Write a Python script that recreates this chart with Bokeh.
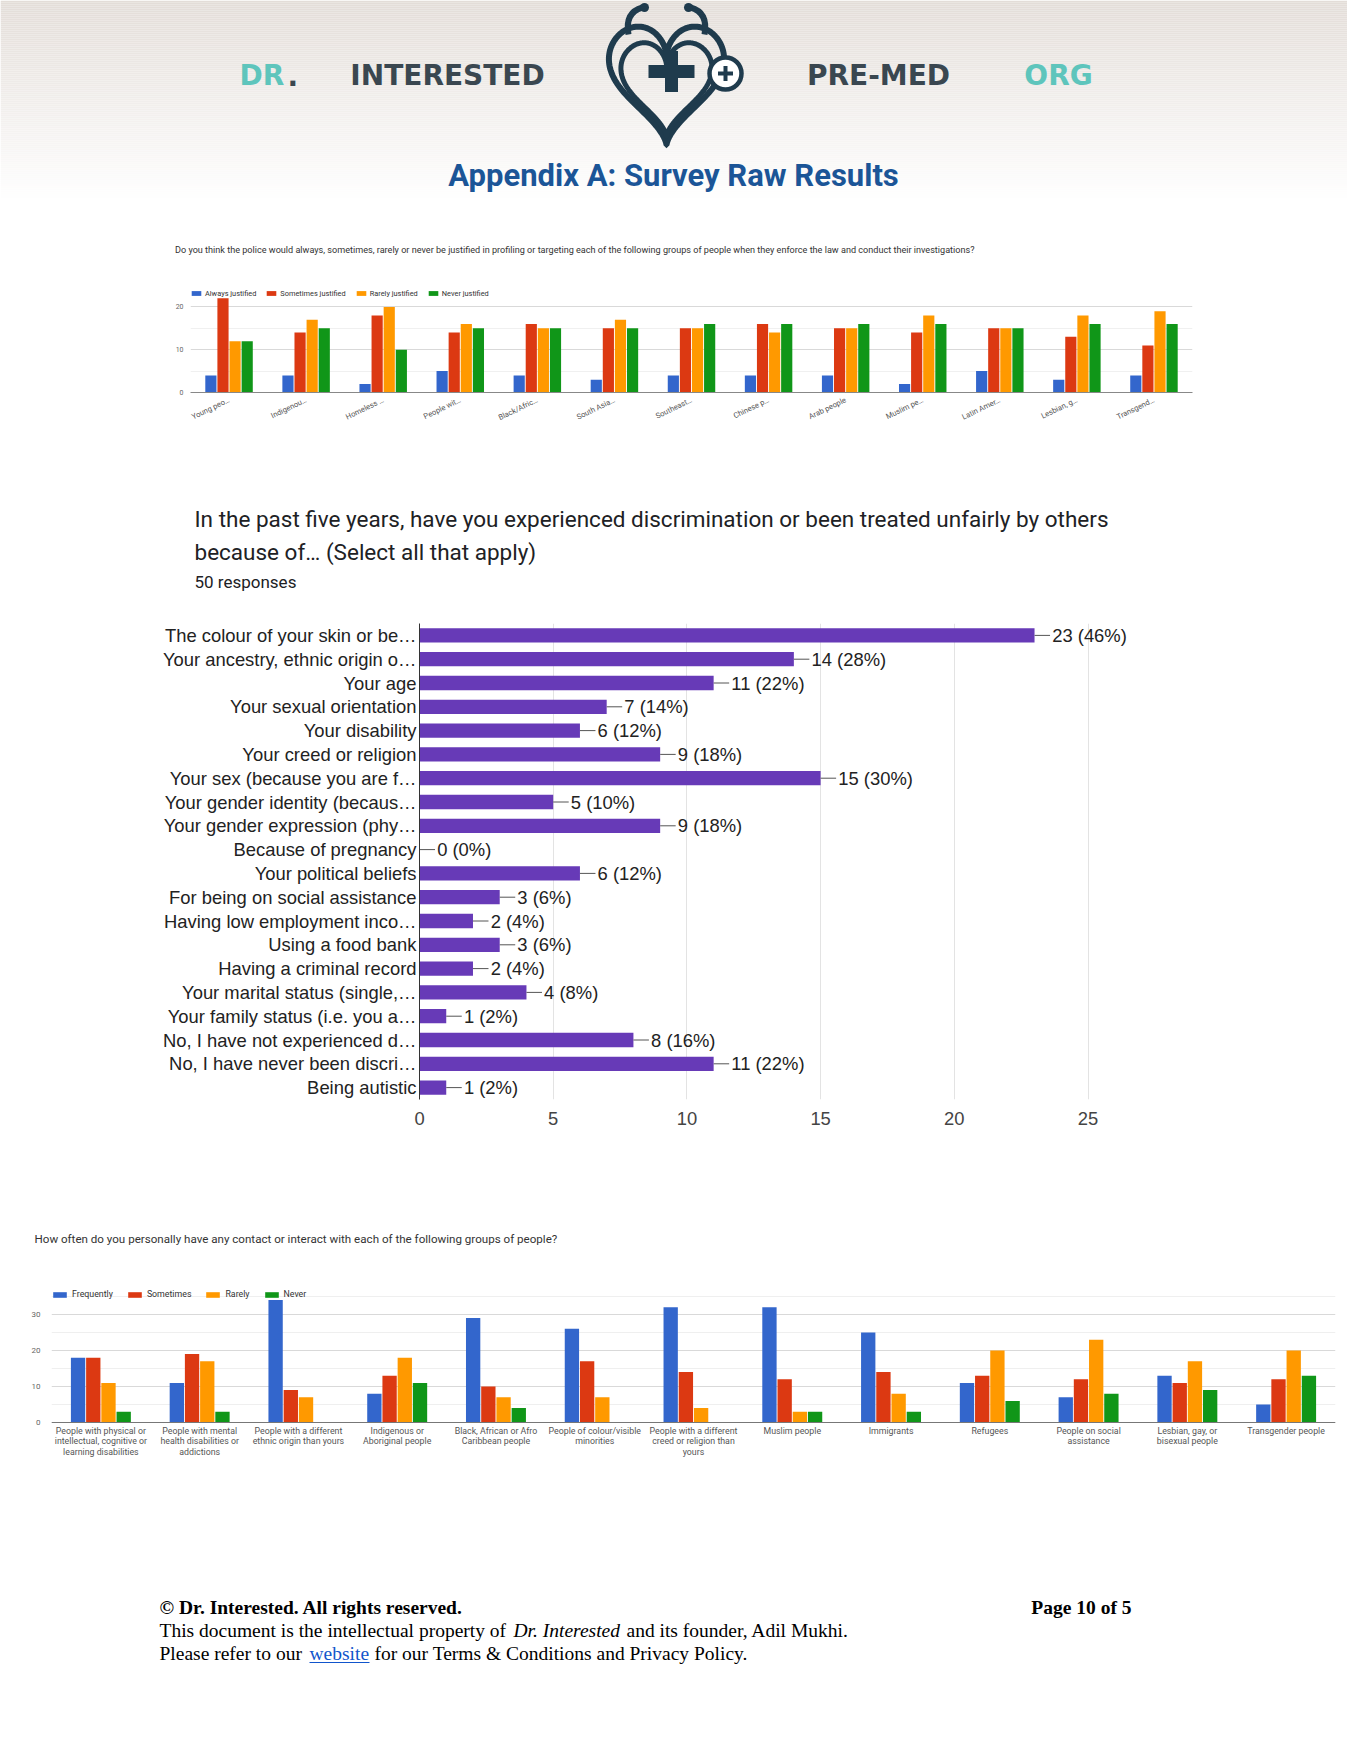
import math
import numpy as np
from bokeh.plotting import figure
from bokeh.models import Range1d, FactorRange, Legend, LegendItem, FixedTicker, ColumnDataSource, Span
from bokeh.transform import dodge
from bokeh.layouts import column
from bokeh.embed import file_html
from bokeh.resources import INLINE
from bokeh.core.properties import value

# ---------------- data ----------------
police_groups = ["Young peo…", "Indigenou…", "Homeless …", "People wit…", "Black/Afric…",
                 "South Asia…", "Southeast…", "Chinese p…", "Arab people", "Muslim pe…",
                 "Latin Amer…", "Lesbian, g…", "Transgend…"]
police_series = ["Always justified", "Sometimes justified", "Rarely justified", "Never justified"]
police_always = [4, 4, 2, 5, 4, 3, 4, 4, 4, 2, 5, 3, 4]
police_sometimes = [22, 14, 18, 14, 16, 15, 15, 16, 15, 14, 15, 13, 11]
police_rarely = [12, 17, 20, 16, 15, 17, 15, 14, 15, 18, 15, 18, 19]
police_never = [12, 15, 10, 15, 15, 15, 16, 16, 16, 16, 15, 16, 16]
police_ticks = [0, 10, 20]
police_minor_ticks = [5, 15, 25]

disc_reasons = ["The colour of your skin or be…", "Your ancestry, ethnic origin o…", "Your age",
                "Your sexual orientation", "Your disability", "Your creed or religion",
                "Your sex (because you are f…", "Your gender identity (becaus…",
                "Your gender expression (phy…", "Because of pregnancy", "Your political beliefs",
                "For being on social assistance", "Having low employment inco…", "Using a food bank",
                "Having a criminal record", "Your marital status (single,…",
                "Your family status (i.e. you a…", "No, I have not experienced d…",
                "No, I have never been discri…", "Being autistic"]
disc_counts = [23, 14, 11, 7, 6, 9, 15, 5, 9, 0, 6, 3, 2, 3, 2, 4, 1, 8, 11, 1]
disc_responses = 50
disc_ticks = [0, 5, 10, 15, 20, 25]

contact_groups = ["People with physical or intellectual, cognitive or learning disabilities",
                  "People with mental health disabilities or addictions",
                  "People with a different ethnic origin than yours",
                  "Indigenous or Aboriginal people",
                  "Black, African or Afro Caribbean people",
                  "People of colour/visible minorities",
                  "People with a different creed or religion than yours",
                  "Muslim people", "Immigrants", "Refugees",
                  "People on social assistance",
                  "Lesbian, gay, or bisexual people",
                  "Transgender people"]
contact_labels = ["People with physical or\nintellectual, cognitive or\nlearning disabilities",
                  "People with mental\nhealth disabilities or\naddictions",
                  "People with a different\nethnic origin than yours",
                  "Indigenous or\nAboriginal people",
                  "Black, African or Afro\nCaribbean people",
                  "People of colour/visible\nminorities",
                  "People with a different\ncreed or religion than\nyours",
                  "Muslim people", "Immigrants", "Refugees",
                  "People on social\nassistance",
                  "Lesbian, gay, or\nbisexual people",
                  "Transgender people"]
contact_series = ["Frequently", "Sometimes", "Rarely", "Never"]
contact_frequently = [18, 11, 34, 8, 29, 26, 32, 32, 25, 11, 7, 13, 5]
contact_sometimes = [18, 19, 9, 13, 10, 17, 14, 12, 14, 13, 12, 11, 12]
contact_rarely = [11, 17, 7, 18, 7, 7, 4, 3, 8, 20, 23, 17, 20]
contact_never = [3, 3, 0, 11, 4, 0, 0, 3, 3, 6, 8, 9, 13]
contact_ticks = [0, 10, 20, 30]
contact_minor_ticks = [5, 15, 25, 35]

# ---------------- styling ----------------
W = 1347
SERIES_COLORS = ["#3366cc", "#dc3912", "#ff9900", "#109618"]
DARK = "#1f3b4d"
TEAL = "#5ec5bc"


def canvas(h):
    p = figure(width=W, height=h, x_range=Range1d(0, W), y_range=Range1d(h, 0),
               toolbar_location=None, output_backend="svg", frame_align=False,
               x_axis_location=None, y_axis_location=None, min_border=0)
    p.grid.visible = False
    p.outline_line_color = None
    p.background_fill_color = "white"
    p.border_fill_color = "white"
    return p


def txt(p, x, y, s, size, color="#222222", font="Roboto", style="normal",
        align="left", baseline="middle"):
    p.text(x=[x], y=[y], text=[s], text_font=value(font), text_font_size=value(size),
           text_color=value(color), text_font_style=value(style),
           text_align=value(align), text_baseline=value(baseline))


def no_ticks(ax):
    ax.major_tick_line_color = None
    ax.minor_tick_line_color = None
    ax.major_tick_out = 0
    ax.minor_tick_out = 0
    ax.major_tick_in = 0
    ax.minor_tick_in = 0


# ---------------- header (page y 0..268) ----------------
H1 = 268
hdr = canvas(H1)
tops, bots, cols = [], [], []
c0 = np.array([227, 221, 216])
for ly in range(0, 204, 2):
    frac = min(1.0, ly / 200.0)
    c = c0 + (np.array([255, 255, 255]) - c0) * frac
    tops.append(ly)
    bots.append(ly + 2)
    cols.append("#%02x%02x%02x" % tuple(int(round(v)) for v in c))
hdr.quad(left=0, right=W, top=tops, bottom=bots, fill_color=cols, line_color=None)

# logo: heart + stethoscope
t = np.linspace(0, 2 * np.pi, 240)
hx = 16 * np.sin(t) ** 3
hy = 13 * np.cos(t) - 5 * np.cos(2 * t) - 2 * np.cos(3 * t) - np.cos(4 * t)
for cx, cy, sx, sy, lw in [(666, 75, 3.6, 4.1, 6), (666, 81, 2.85, 3.25, 5)]:
    hdr.line(cx + sx * hx, cy - sy * hy, line_color=DARK, line_width=lw)
for (x0, y0, cx0, cy0, x1, y1) in [(628, 34, 624, 12, 642, 7), (704, 34, 708, 12, 690, 7)]:
    hdr.quadratic(x0=[x0], y0=[y0], cx=[cx0], cy=[cy0], x1=[x1], y1=[y1],
                  line_color=DARK, line_width=6)
for ex in (644, 688):
    hdr.circle(x=[ex], y=[7], radius=4.5, fill_color=DARK, line_color=None)
hdr.rect(x=[671], y=[71], width=46, height=13, fill_color=DARK, line_color=None)
hdr.rect(x=[671], y=[71], width=13, height=41, fill_color=DARK, line_color=None)
hdr.circle(x=[725], y=[73], radius=16, fill_color="white", line_color=DARK, line_width=4.5)
hdr.rect(x=[725], y=[73], width=15, height=4, fill_color=DARK, line_color=None)
hdr.rect(x=[725], y=[73], width=4, height=15, fill_color=DARK, line_color=None)

bx = "DejaVu Sans"
txt(hdr, 239, 75, "DR", "28px", TEAL, bx, "bold")
txt(hdr, 287, 75, ".", "28px", "#3a4750", bx, "bold")
txt(hdr, 447, 75, "INTERESTED", "28px", "#3a4750", bx, "bold", "center")
txt(hdr, 878, 75, "PRE-MED", "28px", "#3a4750", bx, "bold", "center")
txt(hdr, 1058, 75, "ORG", "28px", TEAL, bx, "bold", "center")

txt(hdr, 673, 175, "Appendix A: Survey Raw Results", "31px", "#1b5597", "Roboto", "bold", "center")

txt(hdr, 174.5, 249, "Do you think the police would always, sometimes, rarely or never be justified in "
                     "profiling or targeting each of the following groups of people when they enforce "
                     "the law and conduct their investigations?", "9.1px", "#333333")

# ---------------- top chart (police), page y 268..432 ----------------
src_p = ColumnDataSource(dict(group=police_groups, always=police_always,
                              sometimes=police_sometimes, rarely=police_rarely,
                              never=police_never))
p2 = figure(width=W, height=164, x_range=FactorRange(factors=police_groups),
            y_range=Range1d(0, 25), toolbar_location=None, output_backend="svg", frame_align=False,
            min_border_left=190, min_border_right=155, min_border_top=17, min_border_bottom=40)
pitch = 0.157
rends = []
for i, (cname, col) in enumerate(zip(["always", "sometimes", "rarely", "never"], SERIES_COLORS)):
    r = p2.vbar(x=dodge("group", (i - 1.5) * pitch, range=p2.x_range), top=cname,
                width=0.145, source=src_p, fill_color=col, line_color=None)
    rends.append(r)
leg = Legend(items=[LegendItem(label=s, renderers=[r]) for s, r in zip(police_series, rends)],
             orientation="horizontal", location="top_left", margin=0, padding=0, spacing=9,
             glyph_width=12, glyph_height=6, label_height=16, label_standoff=3,
             label_text_font="Roboto", label_text_font_size="7.4px",
             label_text_color="#333333", border_line_color=None, background_fill_alpha=0)
p2.add_layout(leg)
p2.outline_line_color = None
p2.xgrid.grid_line_color = None
tk = FixedTicker(ticks=police_ticks, minor_ticks=police_minor_ticks)
p2.yaxis.ticker = tk
p2.ygrid.ticker = tk
p2.ygrid.grid_line_color = "#d9d9d9"
p2.ygrid.minor_grid_line_color = "#f0f0f0"
p2.yaxis.axis_line_color = None
no_ticks(p2.yaxis)
p2.yaxis.major_label_text_font = "Roboto"
p2.yaxis.major_label_text_font_size = "7px"
p2.yaxis.major_label_text_color = "#666666"
p2.yaxis.major_label_standoff = 7
p2.xaxis.axis_line_color = "#888888"
no_ticks(p2.xaxis)
p2.xaxis.major_label_orientation = 0.45
p2.xaxis.major_label_text_font = "Roboto"
p2.xaxis.major_label_text_font_size = "7.6px"
p2.xaxis.major_label_text_color = "#555555"
p2.xaxis.major_label_standoff = 7

# ---------------- middle text, page y 432..600 ----------------
T3, H3 = 432, 168
mt = canvas(H3)
txt(mt, 194, 518 - T3, "In the past five years, have you experienced discrimination or been treated unfairly by others",
    "22.5px", "#202124")
txt(mt, 194, 551 - T3, "because of… (Select all that apply)", "22.5px", "#202124")
txt(mt, 194, 581 - T3, f"{disc_responses} responses", "17px", "#202124")

# ---------------- middle chart (discrimination), page y 600..1140 ----------------
src_d = ColumnDataSource(dict(
    reason=disc_reasons, count=disc_counts,
    lead_end=[c + 0.58 for c in disc_counts],
    label_x=[c + 0.66 for c in disc_counts],
    label=[f"{c} ({round(100 * c / disc_responses)}%)" for c in disc_counts]))
p4 = figure(width=W, height=540, y_range=FactorRange(factors=list(reversed(disc_reasons))),
            x_range=Range1d(0, 27), toolbar_location=None, output_backend="svg", frame_align=False,
            min_border_left=419, min_border_right=206, min_border_top=23, min_border_bottom=41)
p4.hbar(y="reason", left=0, right="count", height=0.6, source=src_d,
        fill_color="#673ab7", line_color=None)
p4.segment(x0="count", y0="reason", x1="lead_end", y1="reason", source=src_d,
           line_color="#555555", line_width=1)
p4.text(x="label_x", y="reason", text="label", source=src_d,
        text_font=value("Liberation Sans"), text_font_size=value("18.4px"),
        text_color=value("#222222"), text_baseline=value("middle"), text_align=value("left"))
p4.outline_line_color = None
p4.ygrid.grid_line_color = None
tk4 = FixedTicker(ticks=disc_ticks)
p4.xaxis.ticker = tk4
p4.xgrid.ticker = tk4
p4.xgrid.grid_line_color = "#e3e3e3"
p4.xaxis.axis_line_color = None
no_ticks(p4.xaxis)
p4.xaxis.major_label_text_font = "Liberation Sans"
p4.xaxis.major_label_text_font_size = "18.4px"
p4.xaxis.major_label_text_color = "#444444"
p4.xaxis.major_label_standoff = 12
p4.yaxis.axis_line_color = "#333333"
no_ticks(p4.yaxis)
p4.yaxis.major_label_text_font = "Liberation Sans"
p4.yaxis.major_label_text_font_size = "18.4px"
p4.yaxis.major_label_text_color = "#222222"
p4.yaxis.major_label_standoff = 3

# ---------------- bottom text, page y 1140..1270 ----------------
T5, H5 = 1140, 130
bt = canvas(H5)
txt(bt, 34, 1238 - T5, "How often do you personally have any contact or interact with each of the following groups of people?",
    "11.6px", "#333333")

# ---------------- bottom chart (contact), page y 1270..1470 ----------------
label_lines = [lab.split("\n") + [""] * (3 - len(lab.split("\n"))) for lab in contact_labels]
src_c = ColumnDataSource(dict(group=contact_groups, frequently=contact_frequently,
                              sometimes=contact_sometimes, rarely=contact_rarely,
                              never=contact_never,
                              line1=[l[0] for l in label_lines],
                              line2=[l[1] for l in label_lines],
                              line3=[l[2] for l in label_lines]))
p6 = figure(width=W, height=200, x_range=FactorRange(factors=contact_groups),
            y_range=Range1d(-11.1, 37.2), toolbar_location=None, output_backend="svg",
            frame_align=False, x_axis_location=None,
            min_border_left=51, min_border_right=12, min_border_top=18, min_border_bottom=8)
pitch6 = 0.154
rends6 = []
for i, (cname, col) in enumerate(zip(["frequently", "sometimes", "rarely", "never"], SERIES_COLORS)):
    r = p6.vbar(x=dodge("group", (i - 1.5) * pitch6, range=p6.x_range), top=cname, bottom=0,
                width=0.145, source=src_c, fill_color=col, line_color=None)
    rends6.append(r)
p6.add_layout(Span(location=0, dimension="width", line_color="#777777", line_width=1))
for k, off in zip(["line1", "line2", "line3"], [8, 18.8, 29.6]):
    p6.text(x="group", y=0, text=k, source=src_c, y_offset=off,
            text_font=value("Roboto"), text_font_size=value("8.8px"),
            text_color=value("#555555"), text_align=value("center"), text_baseline=value("middle"))
leg6 = Legend(items=[LegendItem(label=s, renderers=[r]) for s, r in zip(contact_series, rends6)],
              orientation="horizontal", location="top_left", margin=0, padding=0, spacing=13,
              glyph_width=17, glyph_height=7, label_height=12, label_standoff=4,
              label_text_font="Roboto", label_text_font_size="8.8px",
              label_text_color="#333333", border_line_color=None, background_fill_alpha=0)
p6.add_layout(leg6)
p6.outline_line_color = None
for g in p6.xgrid:
    g.visible = False
tk6 = FixedTicker(ticks=contact_ticks, minor_ticks=contact_minor_ticks)
p6.yaxis.ticker = tk6
p6.ygrid.ticker = tk6
p6.ygrid.grid_line_color = "#d9d9d9"
p6.ygrid.minor_grid_line_color = "#efefef"
p6.yaxis.axis_line_color = None
no_ticks(p6.yaxis)
p6.yaxis.major_label_text_font = "Roboto"
p6.yaxis.major_label_text_font_size = "8px"
p6.yaxis.major_label_text_color = "#666666"
p6.yaxis.major_label_standoff = 11

# ---------------- footer, page y 1470..1730 ----------------
T7, H7 = 1470, 260
ft = canvas(H7)
serif = "Liberation Serif"
txt(ft, 159, 1607 - T7, "© Dr. Interested. All rights reserved.", "19.5px", "#000000", serif, "bold")
txt(ft, 1131, 1607 - T7, "Page 10 of 5", "19.5px", "#000000", serif, "bold", "right")
txt(ft, 159, 1630 - T7, "This document is the intellectual property of", "19.5px", "#000000", serif)
txt(ft, 513, 1630 - T7, "Dr. Interested", "19.5px", "#000000", serif, "italic")
txt(ft, 626, 1630 - T7, "and its founder, Adil Mukhi.", "19.5px", "#000000", serif)
txt(ft, 159, 1653 - T7, "Please refer to our", "19.5px", "#000000", serif)
txt(ft, 309, 1653 - T7, "website", "19.5px", "#1155cc", serif)
ft.segment(x0=[309], y0=[1662 - T7], x1=[369], y1=[1662 - T7], line_color="#1155cc", line_width=1)
txt(ft, 374, 1653 - T7, "for our Terms & Conditions and Privacy Policy.", "19.5px", "#000000", serif)

page = column(hdr, p2, mt, p4, bt, p6, ft, spacing=0)
open("out.html", "w").write(file_html(page, INLINE, "Appendix A: Survey Raw Results"))
